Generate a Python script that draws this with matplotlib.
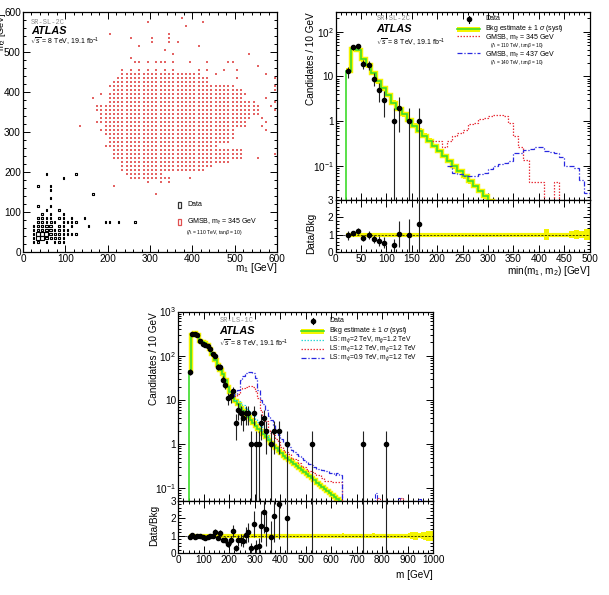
import numpy as np
import matplotlib
matplotlib.use("Agg")
import matplotlib.pyplot as plt
from matplotlib.patches import Rectangle
from matplotlib.collections import PatchCollection
from matplotlib.lines import Line2D
from matplotlib.ticker import MultipleLocator, LogLocator, NullFormatter, FuncFormatter

plt.rcParams['font.family'] = ['Liberation Sans', 'DejaVu Sans']
plt.rcParams['mathtext.fontset'] = 'custom'
plt.rcParams['mathtext.rm'] = 'Liberation Sans'
plt.rcParams['mathtext.it'] = 'Liberation Sans:italic'
plt.rcParams['mathtext.bf'] = 'Liberation Sans:bold'
plt.rcParams['axes.linewidth'] = 0.9

# ---------------- Panel 1: m1 vs m2 (10 GeV cells, lower edges) ----------------
data2d_m1 = [50, 90, 120, 30, 60, 60, 60, 160, 30, 60, 50, 80, 40, 60, 90,
             30, 40, 50, 60, 80, 90, 110, 140,
             190, 200, 220, 260, 120, 110, 100, 30, 40, 50, 60, 70, 90,
             150, 20, 30, 40, 50, 60, 80, 90, 110,
             20, 30, 40, 50, 60, 70, 80, 90, 100,
             20, 30, 40, 50, 60, 70, 80, 90, 100, 110, 120,
             20, 30, 40, 50, 60, 70, 80, 90,
             20, 30, 50, 70, 80, 90]
data2d_m2 = [190, 180, 190, 160, 160, 150, 130, 140, 110, 110, 100, 100, 90, 90, 90,
             80, 80, 80, 80, 80, 80, 80, 80,
             70, 70, 70, 70, 70, 70, 70, 70, 70, 70, 70, 70, 70,
             60, 60, 60, 60, 60, 60, 60, 60, 60,
             50, 50, 50, 50, 50, 50, 50, 50, 50,
             40, 40, 40, 40, 40, 40, 40, 40, 40, 40, 40,
             30, 30, 30, 30, 30, 30, 30, 30,
             20, 20, 20, 20, 20, 20]
data2d_n = [1, 1, 1, 1, 1, 1, 1, 1, 1, 1, 1, 1, 1, 1, 1,
            1, 1, 1, 1, 1, 1, 1, 1,
            1, 1, 1, 1, 1, 1, 1, 1, 2, 1, 2, 1, 1,
            1, 1, 1, 1, 3, 3, 1, 1, 1,
            1, 2, 3, 3, 3, 1, 2, 1, 1,
            1, 8, 9, 7, 3, 2, 2, 1, 1, 1, 1,
            1, 6, 7, 5, 2, 2, 2, 1,
            1, 3, 1, 1, 1, 1]

# GMSB (m_stau = 345 GeV) occupied cells: m2 row -> m1 lower edges ("a-b" = every 10 GeV from a to b)
gmsb_m2 = [580, 570, 560, 540, 530, 520, 510, 500, 490, 480, 470, 460, 450,
           440, 430, 420, 410, 400, 390, 380, 370, 360, 350, 340, 330, 320, 310,
           300, 290, 280, 270, 260, 250, 240, 230, 220, 210, 200, 190, 180, 170, 160, 140]
gmsb_m1 = ["370", "290,420", "380", "200,340", "250,300,340", "300,340,360", "270,410", "330",
           "350,530", "250", "260,270,290,310,320,330,350,390,430,480,490", "550",
           "230,250,270,290,310,330,350,410,430,470,500",
           "230-410,450,570", "220-430,500,590", "210-430", "200-490,590", "210-510,590",
           "180,200-520", "160,200-510,570", "200-540,590", "170-550,580", "170-550,590",
           "180-550", "180-530,560", "170-520,570", "130,190-520,560", "180-490,570",
           "190-490", "200-490", "200-480", "190-450", "210-510", "210-510,590", "210-510,550",
           "230-480", "230-440", "230-420", "240-320", "250-340,390", "290,320,340", "210", "310"]

# ---------------- Panel 2: min(m1, m2), SR-SL-2C ----------------
sl_bkg_start = 20
sl_bkg = [13.5, 42, 39, 24, 18, 12, 7.8, 5.5, 3.9, 2.6, 1.9, 1.45, 1.05, 0.8, 0.62,
          0.48, 0.37, 0.285, 0.22, 0.17, 0.13, 0.10, 0.078, 0.06, 0.046, 0.036,
          0.028, 0.021, 0.0165, 0.0128]
sl_ratio_unc = [0.12] * 39 + [0.30, 0.12, 0.12, 0.12, 0.12, 0.22, 0.25, 0.22, 0.30]  # bins 20..500
sl_data_x = [25, 35, 45, 55, 65, 75, 85, 95, 115, 125, 145, 165]
sl_data = [13, 45, 47, 19, 18, 9, 5, 3, 1, 2, 1, 1]
sl_sig345_start = 190
sl_sig345 = [0.36, 0.36, 0.27, 0.36, 0.46, 0.55, 0.65, 0.85, 0.92, 1.1, 1.19, 1.3, 1.38,
             1.38, 1.3, 0.92, 0.46, 0.27, 0.14, 0.044, 0.044, 0.044, 1e-4, 1e-4, 0.044, 1e-4]
sl_sig437_start = 220
sl_sig437 = [0.1, 0.07, 0.066, 0.06, 0.06, 0.06, 0.066, 0.07, 0.085, 0.1, 0.11, 0.12, 0.13,
             0.2, 0.2, 0.23, 0.24, 0.26, 0.26, 0.22, 0.21, 0.2, 0.16, 0.1, 0.1, 0.09, 0.05, 0.025]

# ---------------- Panel 3: m, SR-LS-1C ----------------
ls_bkg_start = 40
ls_bkg = [45, 290, 325, 290, 210, 200, 195, 175, 140, 108, 80, 62, 48, 38, 28,
          20, 15.5, 12.5, 9.5, 8.0, 6.6, 5.6, 4.8, 4.1, 3.5, 3.0, 2.6, 2.25, 1.95,
          1.7, 1.45, 1.25, 1.07, 0.93, 0.81, 0.71, 0.62, 0.55, 0.49, 0.45, 0.40,
          0.36, 0.325, 0.29, 0.26, 0.235, 0.21, 0.19, 0.17, 0.152, 0.136, 0.122,
          0.11, 0.099, 0.088, 0.079, 0.071, 0.064, 0.057, 0.051]
ls_ratio_unc = ([0.08] * 60 + [0.15, 0.1, 0.08, 0.08, 0.08, 0.12, 0.08, 0.08, 0.08, 0.08,
                0.08, 0.08, 0.15, 0.1, 0.08, 0.08, 0.1, 0.08, 0.08, 0.1, 0.08, 0.08,
                0.08, 0.1, 0.08, 0.12, 0.15, 0.2, 0.25, 0.25, 0.15, 0.2, 0.25, 0.3, 0.3, 0.3])
ls_data_x = [45, 55, 65, 75, 85, 95, 105, 115, 125, 135, 145, 155, 165, 175, 185, 195, 205,
             215, 225, 235, 245, 255, 265, 275, 285, 295, 305, 315, 325, 335, 345, 365, 375,
             395, 425, 525, 725, 815]
ls_data = [43, 307, 312, 296, 210, 188, 176, 165, 140, 110, 100, 56, 57, 29, 22, 11, 12,
           16, 3, 6, 5, 4, 5, 5, 1, 5, 1, 1, 3, 4, 2, 1, 2, 2, 1, 1, 1, 1]
ls_sig2_start = 220
ls_sig2 = [10, 9.5, 8.5, 7.5, 6.6, 6.0, 5.2, 4.5, 3.8, 3.2, 2.6, 2.1, 1.7, 1.4]
ls_sig12_start = 220
ls_sig12 = [12, 14, 17.5, 19, 20, 21, 21, 20, 16, 11, 6, 4, 3.3, 2.1, 1.8, 1.6, 1.3, 1.1,
            0.85, 0.73, 0.65, 0.6, 0.5, 0.47, 0.45, 0.38, 0.33, 0.3, 0.27, 0.25, 0.24,
            0.22, 0.2, 0.2, 0.17, 0.15, 0.15, 0.15, 0.14, 0.14, 0.14, 0.14, 1e-4]
ls_sig09_start = 210
ls_sig09 = [12, 14, 17, 28, 35, 40, 43, 43, 40, 31, 17, 10, 8.3, 6, 4.3, 3.5, 2.7, 2.1, 1.6,
            1.3, 1.1, 1.0, 0.85, 0.75, 0.65, 0.6, 0.55, 0.5, 0.45, 0.4, 0.36, 0.34, 0.3,
            0.28, 0.28, 0.26, 0.25, 0.25, 0.22, 0.22, 0.2, 0.22, 0.2, 1e-4]
ls_tail_sig09_x = [770, 860, 940]
ls_tail_sig09 = [0.08, 0.06, 0.058]
ls_tail_sig12_x = [780, 870]
ls_tail_sig12 = [0.06, 0.06]

# ---------------- styling helpers ----------------
W, H = 609, 595
fig = plt.figure(figsize=(W / 100, H / 100), dpi=100)

def fax(l, t, r, b):
    return fig.add_axes([l / W, 1 - b / H, (r - l) / W, (b - t) / H])

def ftext(x, y, s, **kw):
    kw.setdefault('va', 'center')
    kw.setdefault('ha', 'left')
    return fig.text(x / W, 1 - y / H, s, **kw)

def fline(x1, x2, y, **kw):
    fig.add_artist(Line2D([x1 / W, x2 / W], [1 - y / H, 1 - y / H], transform=fig.transFigure, **kw))

def logfmt(v, pos):
    e = int(round(np.log10(v)))
    if e == 0:
        return '1'
    if e == 1:
        return '10'
    return r'$10^{%d}$' % e

def style(ax, xmaj, xmin, ymaj=None, ymin=None, logy=False):
    ax.xaxis.set_major_locator(MultipleLocator(xmaj))
    ax.xaxis.set_minor_locator(MultipleLocator(xmin))
    if logy:
        ax.set_yscale('log')
        ax.yaxis.set_major_locator(LogLocator(base=10, numticks=20))
        ax.yaxis.set_minor_locator(LogLocator(base=10, subs=np.arange(2, 10), numticks=20))
        ax.yaxis.set_minor_formatter(NullFormatter())
        ax.yaxis.set_major_formatter(FuncFormatter(logfmt))
    else:
        ax.yaxis.set_major_locator(MultipleLocator(ymaj))
        ax.yaxis.set_minor_locator(MultipleLocator(ymin))
    ax.tick_params(which='both', direction='in', top=True, right=True, labelsize=7.2,
                   pad=1.5, width=0.7)
    ax.tick_params(which='major', length=5)
    ax.tick_params(which='minor', length=2.5)

YEL = '#f4f400'
GRN = '#3ddc2a'
RED = '#e8323c'
BLU = '#2828e0'
CYN = '#30d8d8'
LEG = 5.0

def bkg_band(ax, start, vals, rel):
    vals = np.array(vals, float)
    edges = start + 10 * np.arange(len(vals) + 1)
    r = np.array(rel[:len(vals)], float)
    ax.stairs(vals * (1 + r), edges, baseline=vals * (1 - r), fill=True, color=YEL, lw=0, zorder=2)
    ax.stairs(vals, edges, baseline=None, color=YEL, lw=3.2, zorder=2)
    ax.stairs(vals, edges, baseline=1e-6, color=GRN, lw=1.2, zorder=3)

def sig_hist(ax, start, vals, color, ls, lw=0.9):
    vals = np.array(vals, float)
    edges = start + 10 * np.arange(len(vals) + 1)
    ax.stairs(vals, edges, baseline=None, color=color, ls=ls, lw=lw, zorder=4)

def data_pts(ax, x, n, floor):
    x = np.array(x, float)
    n = np.array(n, float)
    err = np.sqrt(n)
    lo = np.minimum(err, n - floor)
    ax.errorbar(x, n, yerr=[lo, err], fmt='o', ms=3.0, color='k', ecolor='#222222',
                elinewidth=0.8, capsize=0, zorder=10)

def ratio_panel(ax, start, bkg, unc, xmax, x, n):
    unc = np.array(unc, float)
    edges = start + 10 * np.arange(len(unc) + 1)
    ax.stairs(1 + unc, edges, baseline=1 - unc, fill=True, color=YEL, lw=0, zorder=2)
    ax.stairs(np.ones(len(unc)), edges, baseline=None, color=YEL, lw=3.0, zorder=2)
    ax.axhline(1, color='k', ls=(0, (3, 2)), lw=0.5, zorder=3)
    bkg = np.array(bkg, float)
    x = np.array(x, float)
    n = np.array(n, float)
    idx = ((x - start) // 10).astype(int)
    inside = idx < len(bkg)
    b = np.where(inside, bkg[np.clip(idx, 0, len(bkg) - 1)], np.nan)
    r = n / b
    e = r / np.sqrt(n)
    m = inside
    ax.errorbar(x[m], r[m], yerr=[np.minimum(e[m], r[m]), e[m]], fmt='o', ms=3.0, color='k',
                ecolor='#222222', elinewidth=0.8, capsize=0, zorder=10)
    ax.vlines(x[~m], 0, 3, color='#222222', lw=0.8, zorder=10)
    ax.set_xlim(0, xmax)
    ax.set_ylim(0, 3)

# ================= Panel 1 =================
ax1 = fax(23, 12, 277, 252)
ax1.set_xlim(0, 600)
ax1.set_ylim(0, 600)
style(ax1, 100, 20, 100, 20)
cmax = 9.0
boxes = []
for a, b, c in zip(data2d_m1, data2d_m2, data2d_n):
    s = 10 * np.sqrt(c / cmax)
    boxes.append(Rectangle((a + 5 - s / 2, b + 5 - s / 2), s, s))
ax1.add_collection(PatchCollection(boxes, facecolor='none', edgecolor='k', lw=0.8, zorder=5))
gx, gy = [], []
for m2, spec in zip(gmsb_m2, gmsb_m1):
    for part in spec.split(','):
        if '-' in part:
            a, b = part.split('-')
            cols = range(int(a), int(b) + 1, 10)
        else:
            cols = [int(part)]
        for m1 in cols:
            gx.append(m1 + 5)
            gy.append(m2 + 5)
ax1.scatter(gx, gy, marker='s', s=1.3, c='#e46464', linewidths=0, zorder=4)
ftext(31, 22, 'SR-SL-2C', family='Liberation Mono', fontsize=5.0, color='#8a8a8a')
ftext(31, 31, 'ATLAS', fontsize=7.8, weight='bold', style='italic')
ftext(30, 42, r'$\sqrt{s}$ = 8 TeV, 19.1 fb$^{-1}$', fontsize=5.0)
fig.add_artist(Rectangle((177.5 / W, 1 - 207.5 / H), 3.5 / W, 6 / H, transform=fig.transFigure,
                         fill=False, ec='#333333', lw=0.9))
ftext(187, 204, 'Data', fontsize=LEG)
fig.add_artist(Rectangle((177.5 / W, 1 - 225 / H), 3.5 / W, 6 / H, transform=fig.transFigure,
                         fill=False, ec='#e05050', lw=0.9))
ftext(187, 221.5, r'GMSB, m$_{\tilde{\tau}}$ = 345 GeV', fontsize=LEG)
ftext(186, 232.5, r'($\Lambda$ = 110 TeV, tan$\beta$ = 10)', fontsize=3.6)
ftext(277, 268, r'm$_{1}$ [GeV]', fontsize=7.2, ha='right')
ftext(1.8, 12, r'm$_{2}$ [GeV]', fontsize=6.6, rotation=90, ha='center', va='top')

# ================= Panel 2 =================
ax2 = fax(335.5, 12, 589.5, 200)
ax2r = fax(335.5, 200, 589.5, 252)
ax2.set_xlim(0, 500)
ax2.set_ylim(0.0175, 275)
style(ax2, 50, 10, logy=True)
ax2.tick_params(labelbottom=False)
sig_hist(ax2, sl_sig345_start, sl_sig345, RED, (0, (1.2, 1.2)))
sig_hist(ax2, sl_sig437_start, sl_sig437, BLU, (0, (4, 1.5, 1, 1.5)))
bkg_band(ax2, sl_bkg_start, sl_bkg, sl_ratio_unc)
data_pts(ax2, sl_data_x, sl_data, 1e-4)
style(ax2r, 50, 10, 1, 0.2)
ratio_panel(ax2r, sl_bkg_start, sl_bkg, sl_ratio_unc, 500, sl_data_x, sl_data)
ftext(377, 18, 'SR-SL-2C', family='Liberation Mono', fontsize=5.0, color='#8a8a8a')
ftext(376, 29, 'ATLAS', fontsize=7.8, weight='bold', style='italic')
ftext(376, 43, r'$\sqrt{s}$ = 8 TeV, 19.1 fb$^{-1}$', fontsize=5.0)
# legend
fig.add_artist(Line2D([469 / W], [1 - 19 / H], marker='o', ms=3.0, color='k', transform=fig.transFigure))
fig.add_artist(Line2D([469 / W, 469 / W], [1 - 15.5 / H, 1 - 22.5 / H], color='k', lw=0.8, transform=fig.transFigure))
ftext(485, 19, 'Data', fontsize=LEG)
fig.add_artist(Rectangle((457 / W, 1 - 31.5 / H), 23 / W, 5 / H, transform=fig.transFigure, color=YEL, lw=0))
fline(457, 480, 29, color=GRN, lw=1.2)
ftext(485, 28, r'Bkg estimate $\pm$ 1 $\sigma$ (syst)', fontsize=LEG)
fline(457, 480, 35.5, color=RED, lw=0.9, ls=(0, (1.2, 1.2)))
ftext(485, 38, r'GMSB, m$_{\tilde{\tau}}$ = 345 GeV', fontsize=LEG)
ftext(490, 45.8, r'($\Lambda$ = 110 TeV, tan$\beta$ = 10)', fontsize=3.4)
fline(457, 480, 53, color=BLU, lw=0.9, ls=(0, (4, 1.5, 1, 1.5)))
ftext(485, 54.5, r'GMSB, m$_{\tilde{\tau}}$ = 437 GeV', fontsize=LEG)
ftext(490, 62.8, r'($\Lambda$ = 140 TeV, tan$\beta$ = 10)', fontsize=3.4)
ftext(311, 12, 'Candidates / 10 GeV', fontsize=7.2, rotation=90, ha='center', va='top')
ftext(311, 233, 'Data/Bkg', fontsize=7.2, rotation=90, ha='center', va='center')
ftext(590, 271, r'min(m$_{1}$, m$_{2}$) [GeV]', fontsize=7.2, ha='right')

# ================= Panel 3 =================
ax3 = fax(178.3, 311.5, 433.3, 501)
ax3r = fax(178.3, 501, 433.3, 553.3)
ax3.set_xlim(0, 1000)
ax3.set_ylim(0.052, 1000)
style(ax3, 100, 20, logy=True)
ax3.tick_params(labelbottom=False)
sig_hist(ax3, ls_sig2_start, ls_sig2, CYN, (0, (1.2, 1.2)))
sig_hist(ax3, ls_sig12_start, ls_sig12, RED, (0, (1.2, 1.2)))
sig_hist(ax3, ls_sig09_start, ls_sig09, BLU, (0, (4, 1.5, 1, 1.5)))
for xx, vv in zip(ls_tail_sig09_x, ls_tail_sig09):
    ax3.stairs([vv], [xx, xx + 10], baseline=1e-4, color=BLU, ls=(0, (4, 1.5, 1, 1.5)), lw=0.8, zorder=4)
for xx, vv in zip(ls_tail_sig12_x, ls_tail_sig12):
    ax3.stairs([vv], [xx, xx + 10], baseline=1e-4, color=RED, ls=(0, (1.2, 1.2)), lw=0.8, zorder=4)
bkg_band(ax3, ls_bkg_start, ls_bkg, ls_ratio_unc)
data_pts(ax3, ls_data_x, ls_data, 1e-4)
style(ax3r, 100, 20, 1, 0.2)
ratio_panel(ax3r, ls_bkg_start, ls_bkg, ls_ratio_unc, 1000, ls_data_x, ls_data)
ftext(220, 321, 'SR-LS-1C', family='Liberation Mono', fontsize=5.0, color='#8a8a8a')
ftext(219, 331, 'ATLAS', fontsize=7.8, weight='bold', style='italic')
ftext(219, 344, r'$\sqrt{s}$ = 8 TeV, 19.1 fb$^{-1}$', fontsize=5.0)
fig.add_artist(Line2D([312.7 / W], [1 - 321 / H], marker='o', ms=3.0, color='k', transform=fig.transFigure))
fig.add_artist(Line2D([312.7 / W, 312.7 / W], [1 - 317.5 / H, 1 - 324.5 / H], color='k', lw=0.8, transform=fig.transFigure))
ftext(329, 321, 'Data', fontsize=LEG)
fig.add_artist(Rectangle((301 / W, 1 - 333.5 / H), 22.5 / W, 5 / H, transform=fig.transFigure, color=YEL, lw=0))
fline(301, 323.5, 331, color=GRN, lw=1.2)
ftext(329, 330.5, r'Bkg estimate $\pm$ 1 $\sigma$ (syst)', fontsize=LEG)
fline(301, 323.5, 339.5, color=CYN, lw=0.9, ls=(0, (1.2, 1.2)))
ftext(329, 339.5, r'LS: m$_{\tilde{q}}$=2 TeV, m$_{\tilde{g}}$=1.2 TeV', fontsize=4.8)
fline(301, 323.5, 348.5, color=RED, lw=0.9, ls=(0, (1.2, 1.2)))
ftext(329, 348.5, r'LS: m$_{\tilde{q}}$=1.2 TeV, m$_{\tilde{g}}$=1.2 TeV', fontsize=4.8)
fline(301, 323.5, 357.5, color=BLU, lw=0.9, ls=(0, (4, 1.5, 1, 1.5)))
ftext(329, 357.5, r'LS: m$_{\tilde{q}}$=0.9 TeV, m$_{\tilde{g}}$=1.2 TeV', fontsize=4.8)
ftext(154, 312, 'Candidates / 10 GeV', fontsize=7.2, rotation=90, ha='center', va='top')
ftext(154, 525, 'Data/Bkg', fontsize=7.2, rotation=90, ha='center', va='center')
ftext(433, 575, 'm [GeV]', fontsize=7.2, ha='right')

fig.savefig('out.png', dpi=100)
